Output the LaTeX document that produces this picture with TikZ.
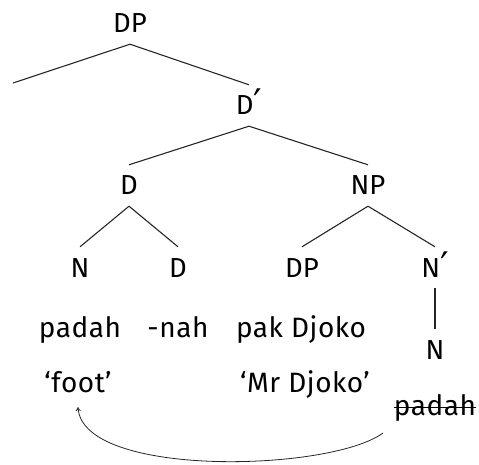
\documentclass[tikz,border=0pt]{standalone}
\usepackage{fontspec}
\setmainfont{Fira Sans}
\newfontfamily\wordfont{Fira Sans}[LetterSpace=2]
\newfontfamily\primefont{DejaVu Sans}
\newcommand{\prm}{{\primefont\fontsize{38}{38}\selectfont\raisebox{-2pt}{′}}}
\usetikzlibrary{arrows.meta}
\begin{document}
\begin{tikzpicture}[x=1pt,y=-1pt,
  cat/.style={anchor=base,inner xsep=2pt,inner ysep=11pt,text height=19pt,text depth=0pt,font=\fontsize{27.5}{32}\selectfont},
  word/.style={anchor=base,inner sep=0pt,font=\wordfont\fontsize{28}{32}\selectfont},
  branch/.style={line width=1.1pt,black!85},
  arr/.style={line width=0.8pt,black!85,-{To[length=4pt,width=5pt]}}]
\useasboundingbox (0,0) rectangle (479,465);
% tree nodes
\node[cat] (dp) at (130,33) {DP};
\coordinate (spec) at (13,83);
\node[cat] (dbar) at (249,115) {D\prm};
\node[cat] (d) at (129,195) {D};
\node[cat] (np) at (368,195) {NP};
\node[cat] (n) at (80,277) {N};
\node[cat] (d2) at (178,277) {D};
\node[cat] (dp2) at (302,277) {DP};
\node[cat] (nbar) at (435,277) {N\prm};
\node[cat] (n2) at (435,359) {N};
% words
\node[word] (w1) at (80,337) {padah};
\node[word] (w2) at (178,337) {-nah};
\node[word] (w3) at (301,337) {pak Djoko};
\node[word] (g1) at (78,392) {‘foot’};
\node[word] (g3) at (305,392) {‘Mr Djoko’};
\node[word] (tr) at (435,415) {padah};
% branches
\draw[branch] (dp.south) -- (spec);
\draw[branch] (dp.south) -- (dbar.north);
\draw[branch] (dbar.south) -- (d.north);
\draw[branch] (dbar.south) -- (np.north);
\draw[branch] (d.south) -- (n.north);
\draw[branch] (d.south) -- (d2.north);
\draw[branch] (np.south) -- (dp2.north);
\draw[branch] (np.south) -- (nbar.north);
\draw[branch] (nbar.south) -- (n2.north);
% strike-through
\draw[line width=1pt] ([yshift=8pt]tr.base west) -- ([yshift=8pt]tr.base east);
% movement arrow
\draw[arr] ([xshift=-52pt,yshift=-18pt]tr.base) .. controls (330,472) and (82,478) .. ([yshift=-15pt]g1.base);
\end{tikzpicture}
\end{document}
